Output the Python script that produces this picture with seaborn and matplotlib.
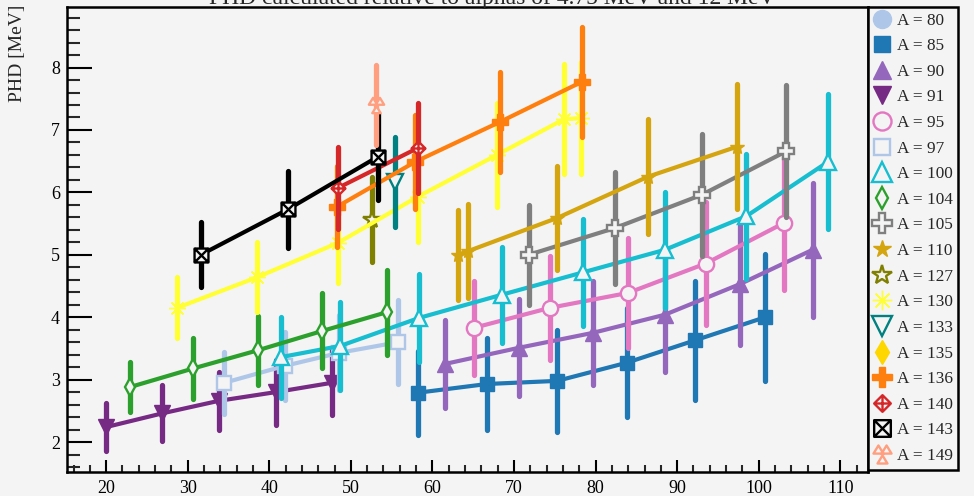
import numpy as np
import pandas as pd
import matplotlib.pyplot as plt
from matplotlib.path import Path
from matplotlib.lines import Line2D
from matplotlib.ticker import MultipleLocator
import seaborn as sns

# values (mass number A -> TKE-ish x, PHD, error)
masses = [80, 85, 90, 91, 95, 97, 100, 104, 105, 110, 127, 130, 133, 135, 136, 140, 143, 149]

x_80, y_80, e_80 = [], [], []
x_85 = [58.2, 66.7, 75.3, 83.8, 92.2, 100.8]
y_85 = [2.79, 2.93, 2.98, 3.27, 3.63, 4.00]
e_85 = [0.67, 0.74, 0.82, 0.87, 0.95, 1.02]
x_90 = [61.5, 70.6, 79.7, 88.5, 97.7, 106.6]
y_90 = [3.25, 3.51, 3.75, 4.04, 4.53, 5.08]
e_90 = [0.70, 0.78, 0.83, 0.92, 0.98, 1.07]
x_91 = [20.0, 26.9, 33.8, 40.8, 47.7]
y_91 = [2.24, 2.46, 2.66, 2.80, 2.95]
e_91 = [0.38, 0.45, 0.47, 0.52, 0.52]
x_95 = [65.1, 74.4, 84.0, 93.5, 103.1]
y_95 = [3.83, 4.15, 4.39, 4.86, 5.51]
e_95 = [0.75, 0.83, 0.88, 0.98, 1.07]
x_97 = [34.5, 41.9, 48.6, 55.8]
y_97 = [2.95, 3.22, 3.43, 3.60]
e_97 = [0.50, 0.55, 0.60, 0.67]
x_100 = [41.4, 48.7, 58.4, 68.5, 78.5, 88.5, 98.5, 108.5]
y_100 = [3.36, 3.54, 3.99, 4.36, 4.72, 5.08, 5.62, 6.49]
e_100 = [0.65, 0.70, 0.70, 0.77, 0.86, 0.93, 1.00, 1.08]
x_104 = [22.9, 30.7, 38.6, 46.5, 54.4]
y_104 = [2.88, 3.18, 3.47, 3.78, 4.08]
e_104 = [0.40, 0.49, 0.55, 0.60, 0.68]
x_105 = [71.8, 82.4, 93.0, 103.4]
y_105 = [5.00, 5.43, 5.96, 6.66]
e_105 = [0.80, 0.89, 0.98, 1.06]
x_110 = [63.1, 64.4, 75.3, 86.4, 97.3]
y_110 = [5.00, 5.06, 5.59, 6.25, 6.73]
e_110 = [0.72, 0.75, 0.83, 0.92, 1.00]
x_127 = [52.6]
y_127 = [5.56]
e_127 = [0.68]
x_130 = [28.7, 38.5, 48.4, 58.2, 67.9, 76.1, 78.2]
y_130 = [4.15, 4.64, 5.19, 5.93, 6.60, 7.17, 7.19]
e_130 = [0.49, 0.56, 0.64, 0.72, 0.83, 0.88, 0.90]
x_133 = [55.4]
y_133 = [6.17]
e_133 = [0.72]
x_135, y_135, e_135 = [], [], []
x_136 = [48.3, 57.9, 68.3, 78.3]
y_136 = [5.77, 6.49, 7.13, 7.77]
e_136 = [0.65, 0.75, 0.80, 0.88]
x_140 = [48.4, 58.2]
y_140 = [6.07, 6.71]
e_140 = [0.66, 0.72]
x_143 = [31.6, 42.3, 53.3]
y_143 = [5.00, 5.73, 6.57]
e_143 = [0.52, 0.62, 0.70]
x_149 = [53.1]
y_149 = [7.40]
e_149 = [0.64]

colors = ['#aec7e8', '#1f77b4', '#9467bd', '#762a83', '#e377c2', '#aec7e8',
          '#17becf', '#2ca02c', '#7f7f7f', '#d4a50f', '#808000', '#ffff33',
          '#008080', '#ffd700', '#ff7f0e', '#d62728', '#000000', '#ff9f7f']

bg = '#f4f4f4'


# some ROOT-like marker shapes
def compound(*parts):
    verts, codes = [], []
    for pts, closed in parts:
        verts += pts
        codes += [Path.MOVETO] + [Path.LINETO] * (len(pts) - 1)
        if closed:
            verts.append(pts[0])
            codes.append(Path.CLOSEPOLY)
    return Path(verts, codes)


diamond_cross = compound(([(0, 1), (1, 0), (0, -1), (-1, 0)], True),
                         ([(-1, 0), (1, 0)], False), ([(0, -1), (0, 1)], False))
box_x = compound(([(-1, -1), (1, -1), (1, 1), (-1, 1)], True),
                 ([(-1, -1), (1, 1)], False), ([(-1, 1), (1, -1)], False))
tri3 = compound(([(-1, 0.1), (-0.45, 1), (0.1, 0.1)], True),
                ([(-0.1, 0.1), (0.45, 1), (1, 0.1)], True),
                ([(-0.55, -1), (0, -0.1), (0.55, -1)], True))

markers = ['o', 's', '^', 'v', 'o', 's', '^', 'd', 'P', '*', '*', (8, 2, 0),
           'v', 'd', 'P', diamond_cross, box_x, tri3]
filled = [True, True, True, True, False, False, False, False, False, True,
          False, True, False, True, True, False, False, False]
sizes = [11, 10, 11, 11, 11, 10, 12, 9, 12, 11, 13, 12, 12, 10, 12, 10, 10, 11]

xs = [x_80, x_85, x_90, x_91, x_95, x_97, x_100, x_104, x_105, x_110, x_127,
      x_130, x_133, x_135, x_136, x_140, x_143, x_149]
ys = [y_80, y_85, y_90, y_91, y_95, y_97, y_100, y_104, y_105, y_110, y_127,
      y_130, y_133, y_135, y_136, y_140, y_143, y_149]
es = [e_80, e_85, e_90, e_91, e_95, e_97, e_100, e_104, e_105, e_110, e_127,
      e_130, e_133, e_135, e_136, e_140, e_143, e_149]

sns.set_theme(style='ticks')
plt.rcParams['font.family'] = ['Liberation Serif', 'DejaVu Serif']

fig = plt.figure(figsize=(9.74, 4.96), dpi=100, facecolor=bg)
ax = fig.add_axes([67 / 974, 1 - 472 / 496, (868 - 67) / 974, (472 - 7) / 496])
ax.set_facecolor(bg)

handles = []
for i, A in enumerate(masses):
    c = colors[i]
    mfc = c if filled[i] else bg
    mew = 1.0 if filled[i] else 1.7
    z = 3 + i
    if len(xs[i]) > 0:
        df = pd.DataFrame({'x': xs[i], 'y': ys[i]})
        eb = ax.errorbar(df['x'], df['y'], yerr=es[i], fmt='none', ecolor=c,
                         elinewidth=3.8, capsize=0, zorder=z)
        eb[2][0].set_capstyle('round')
        sns.lineplot(data=df, x='x', y='y', ax=ax, color=c, lw=3.0,
                     marker=markers[i], ms=sizes[i], mfc=mfc, mec=c, mew=mew,
                     legend=False, zorder=z + 0.5)
    handles.append(Line2D([], [], ls='none', marker=markers[i], ms=sizes[i] + 2,
                          mfc=mfc, mec=c, mew=mew, label=f'A = {A}'))

ax.set_xlim(15.2, 113.4)
ax.set_ylim(1.52, 8.97)
ax.set_xlabel('')
ax.set_ylabel('')

ax.xaxis.set_major_locator(MultipleLocator(10))
ax.xaxis.set_minor_locator(MultipleLocator(2))
ax.set_yticks([2, 3, 4, 5, 6, 7, 8])
ax.yaxis.set_minor_locator(MultipleLocator(0.2))
ax.tick_params(axis='x', which='major', direction='in', length=9, width=1.5,
               labelsize=13, pad=6, colors='black')
ax.tick_params(axis='x', which='minor', direction='in', length=5, width=1.5)
ax.tick_params(axis='y', which='major', direction='in', length=18, width=1.5,
               labelsize=13, pad=5, colors='black')
ax.tick_params(axis='y', which='minor', direction='in', length=9, width=1.5)
for s in ax.spines.values():
    s.set_linewidth(1.8)
    s.set_color('black')

leg = ax.legend(handles=handles, loc='upper left', bbox_to_anchor=(1.0, 1.0),
                borderaxespad=0, frameon=True, fancybox=False, fontsize=12.4,
                labelspacing=0.555, handlelength=1.0, handletextpad=0.35,
                borderpad=0.32, facecolor=bg, edgecolor='black', framealpha=1)
leg.get_frame().set_linewidth(1.8)

fig.text(18 / 974, 1 - 5 / 496, 'PHD [MeV]', rotation=90, ha='center', va='top',
         fontsize=14)
# title sits mostly above the canvas, as in the reference
fig.text(492 / 974, 1 - 4 / 496,
         'PHD calculated relative to alphas of 4.75 MeV and 12 MeV',
         ha='center', va='baseline', fontsize=17)

fig.savefig('out.png', dpi=100, facecolor=bg)
